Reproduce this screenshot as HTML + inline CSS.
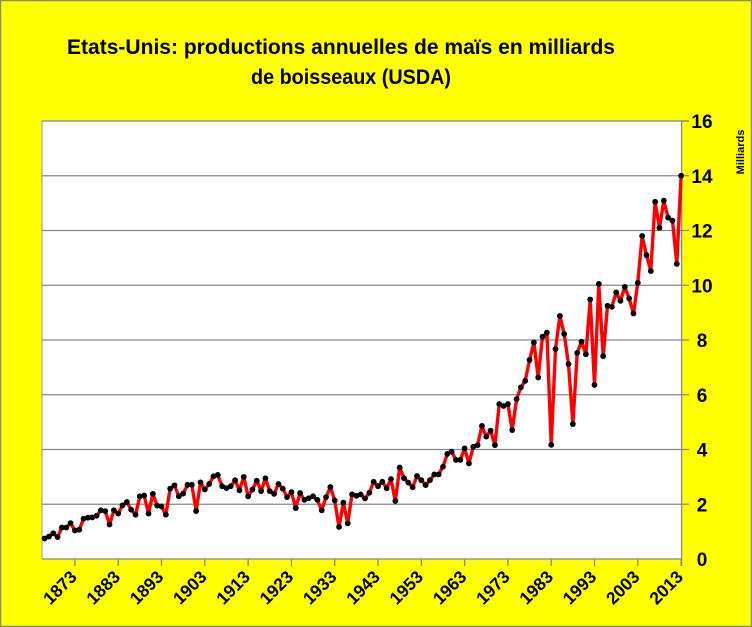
<!DOCTYPE html>
<html><head><meta charset="utf-8"><style>
html,body{margin:0;padding:0;background:#ff0;}
svg{display:block;font-family:"Liberation Sans",Arial,sans-serif;}
</style></head><body>
<svg id="s" width="752" height="627" xmlns="http://www.w3.org/2000/svg">
<rect x="0.5" y="0.5" width="751" height="626" fill="#ff0" stroke="#8a8a6a" stroke-width="1.5"/>
<text x="341" y="54" font-size="21" font-weight="bold" text-anchor="middle" textLength="548" lengthAdjust="spacingAndGlyphs">Etats-Unis: productions annuelles de maïs en milliards</text>
<text x="351" y="84" font-size="21" font-weight="bold" text-anchor="middle" textLength="200" lengthAdjust="spacingAndGlyphs">de boisseaux (USDA)</text>
<rect x="42" y="121" width="639.6" height="438" fill="#fff"/>
<g id="grid" stroke="#888" stroke-width="1.3"></g>
<line x1="42" y1="121" x2="42" y2="559" stroke="#999"/>
<line x1="681.6" y1="121" x2="681.6" y2="566" stroke="#888" stroke-width="1.3"/>
<g id="yl" font-size="19" font-weight="bold" text-anchor="middle"></g>
<text transform="translate(744,152) rotate(-90)" font-size="11" font-weight="bold" text-anchor="middle">Milliards</text>
<g id="xl" font-size="17.5" font-weight="bold" text-anchor="end"></g>
<polyline id="ln" fill="none" stroke="#f00" stroke-width="3.4" stroke-linejoin="round"/>
<g id="pts" fill="#000"></g>
</svg>
<script>
var d=[0.75,0.82,0.94,0.8,1.15,1.15,1.31,1.04,1.07,1.47,1.51,1.52,1.58,1.78,1.75,1.26,1.78,1.66,1.96,2.08,1.8,1.62,2.29,2.32,1.66,2.38,1.95,1.92,1.62,2.57,2.69,2.29,2.39,2.71,2.71,1.75,2.8,2.54,2.74,3.02,3.07,2.66,2.59,2.66,2.88,2.51,3.0,2.29,2.54,2.86,2.48,2.95,2.48,2.38,2.74,2.57,2.26,2.44,1.86,2.41,2.16,2.22,2.29,2.16,1.78,2.26,2.63,2.14,1.17,2.06,1.3,2.36,2.31,2.36,2.21,2.42,2.82,2.66,2.82,2.58,2.92,2.12,3.34,2.95,2.79,2.62,3.03,2.88,2.7,2.88,3.09,3.09,3.37,3.84,3.92,3.62,3.62,4.04,3.49,4.1,4.16,4.86,4.47,4.69,4.16,5.66,5.59,5.66,4.71,5.84,6.27,6.51,7.27,7.91,6.63,8.12,8.27,4.17,7.67,8.88,8.22,7.12,4.93,7.53,7.94,7.48,9.48,6.36,10.05,7.41,9.25,9.21,9.74,9.43,9.94,9.52,8.97,10.09,11.8,11.1,10.52,13.05,12.1,13.09,12.47,12.36,10.78,14.0];
var NS="http://www.w3.org/2000/svg";
function X(i){return 44.6+i*4.33;}function Y(v){return 559-v*27.375;}
function el(p,t,a,txt){var e=document.createElementNS(NS,t);for(var k in a)e.setAttribute(k,a[k]);if(txt!=null)e.textContent=txt;document.getElementById(p).appendChild(e);}
for(var v=0;v<=16;v+=2){var y=Y(v);el('grid','line',{x1:42,x2:v==0?681.6:689,y1:y,y2:y});el('yl','text',{x:702,y:y+7},v);}
el('grid','line',{x1:681.6,x2:689,y1:121,y2:121});
var pts=[];for(var i=0;i<d.length;i++){pts.push(X(i).toFixed(1)+","+Y(d[i]).toFixed(1));el('pts','circle',{cx:X(i),cy:Y(d[i]),r:2.9});}
document.getElementById('ln').setAttribute('points',pts.join(' '));
for(var yr=1873;yr<=2013;yr+=10){var x=X(yr-1866);el('grid','line',{x1:x,x2:x,y1:559,y2:566});el('xl','text',{transform:'translate('+(x+3)+',578) rotate(-45)'},yr);}
</script>
</body></html>
